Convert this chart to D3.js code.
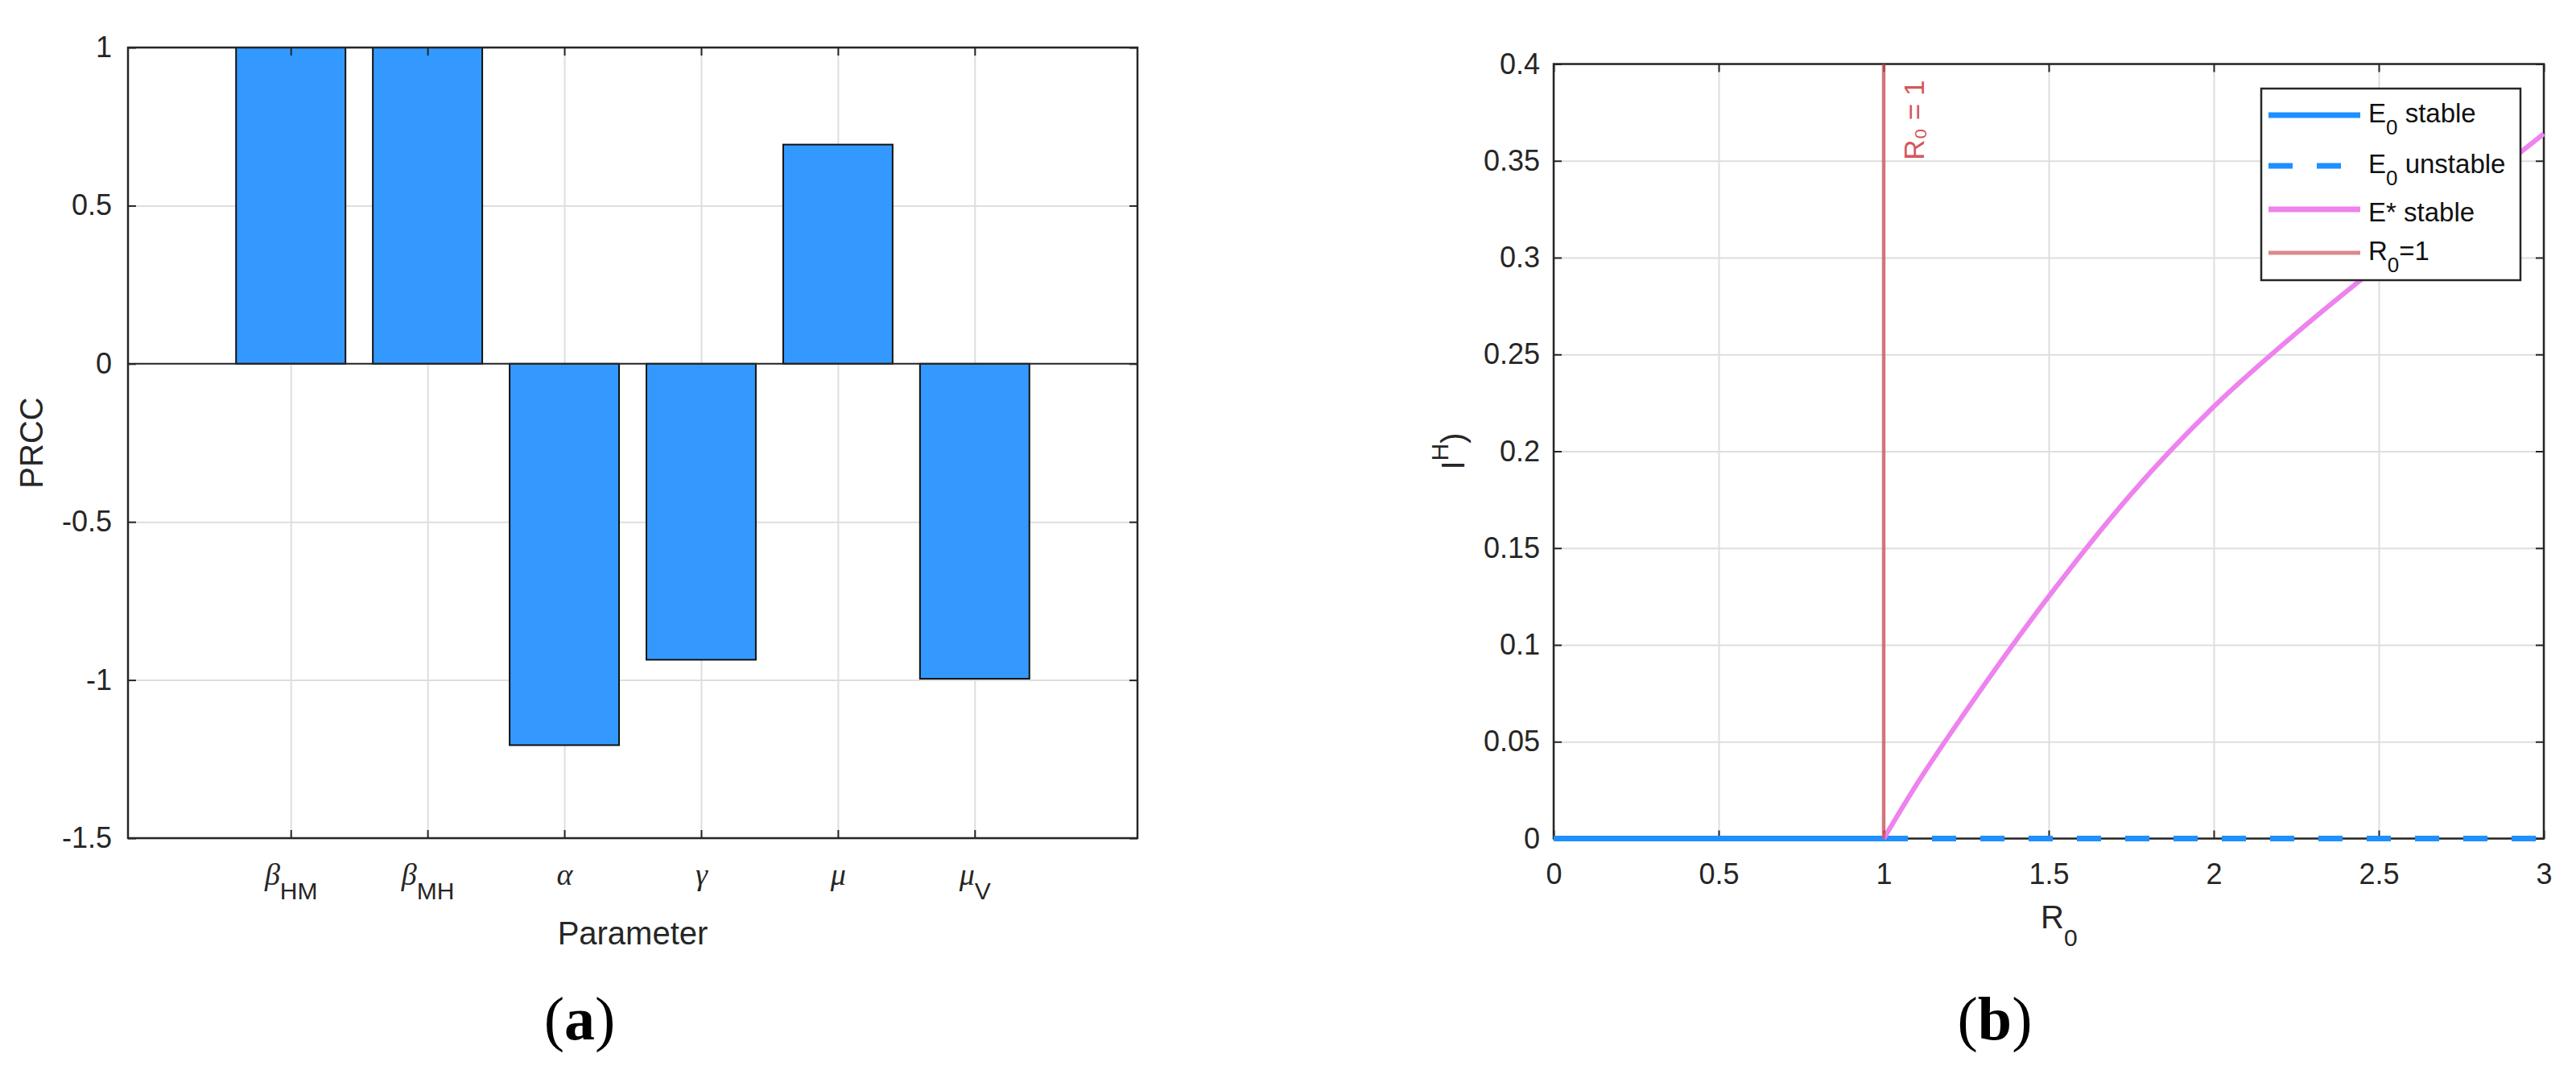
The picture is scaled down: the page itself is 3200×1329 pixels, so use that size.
<!DOCTYPE html>
<html>
<head>
<meta charset="utf-8">
<script src="https://cdn.jsdelivr.net/npm/d3@7"></script>
<style>
body { margin: 0; background: #fff; }
svg { display: block; font-family: "Liberation Sans", Arial, sans-serif; }
</style>
</head>
<body>
<svg width="3200" height="1329"></svg>
<script>
// panel (a): PRCC bars
const paramSymbols = ["β", "β", "α", "γ", "μ", "μ"];
const paramSubs = ["HM", "MH", "", "", "", "V"];
const prccValues = [1.0, 1.0, -1.206, -0.936, 0.693, -0.996];
const prccTicks = [-1.5, -1, -0.5, 0, 0.5, 1];

// panel (b): bifurcation diagram
const r0Ticks = [0, 0.5, 1, 1.5, 2, 2.5, 3];
const iTicks = [0, 0.05, 0.1, 0.15, 0.2, 0.25, 0.3, 0.35, 0.4];
const e0StableR0 = [0, 1];
const e0StableI = [0, 0];
const e0UnstableR0 = [1, 3];
const e0UnstableI = [0, 0];
const eStarR0 = [1.0, 1.1, 1.25, 1.5, 1.75, 2.0, 2.25, 2.5, 2.75, 3.0];
const eStarI = [0.0, 0.028, 0.066, 0.125, 0.178, 0.223, 0.261, 0.296, 0.330, 0.364];
const r0Threshold = 1;
const legendMain = ["E", "E", "E* stable", "R"];
const legendSub = ["0", "0", "", "0"];
const legendRest = [" stable", " unstable", "", "=1"];

const axisColor = "#262626";
const gridColor = "#dedede";
const tickFont = 36;

let svg = d3.select("svg");

function fmt(d) {
	return String(+d.toFixed(2));
}

// grid + box + mirrored ticks for one axes
function drawFrame(box, x, y, xTicks, yTicks) {
	let grid = svg.append("g");
	grid.append("g")
		.attr("transform", "translate(0," + box.bottom + ")")
		.call(d3.axisBottom(x).tickValues(xTicks).tickSize(-(box.bottom - box.top)).tickFormat(""))
		.call(g => g.select(".domain").remove());
	grid.append("g")
		.attr("transform", "translate(" + box.left + ",0)")
		.call(d3.axisLeft(y).tickValues(yTicks).tickSize(-(box.right - box.left)).tickFormat(""))
		.call(g => g.select(".domain").remove());
	grid.selectAll("line").attr("stroke", gridColor).attr("stroke-width", 2);
}

function drawAxes(box, x, y, xTicks, yTicks, yPad) {
	let axes = svg.append("g");
	let gl = axes.append("g")
		.attr("transform", "translate(" + box.left + ",0)")
		.call(d3.axisLeft(y).tickValues(yTicks).tickSize(-10).tickSizeOuter(0).tickPadding(yPad).tickFormat(fmt));
	axes.append("g")
		.attr("transform", "translate(" + box.right + ",0)")
		.call(d3.axisRight(y).tickValues(yTicks).tickSize(-10).tickSizeOuter(0).tickFormat(""));
	axes.append("g")
		.attr("transform", "translate(0," + box.top + ")")
		.call(d3.axisTop(x).tickValues(xTicks).tickSize(-10).tickSizeOuter(0).tickFormat(""));
	let gb = axes.append("g")
		.attr("transform", "translate(0," + box.bottom + ")")
		.call(d3.axisBottom(x).tickValues(xTicks).tickSize(-10).tickSizeOuter(0).tickPadding(31).tickFormat(fmt));
	axes.selectAll(".domain").remove();
	axes.selectAll("g").attr("font-family", null).attr("font-size", tickFont);
	axes.selectAll("line").attr("stroke", axisColor).attr("stroke-width", 2);
	axes.selectAll("text").attr("fill", axisColor);
	axes.append("rect")
		.attr("x", box.left).attr("y", box.top)
		.attr("width", box.right - box.left).attr("height", box.bottom - box.top)
		.attr("fill", "none").attr("stroke", axisColor).attr("stroke-width", 2.5);
	return gb;
}

// ---------- panel (a) ----------
const boxA = {left: 159, right: 1413, top: 59, bottom: 1041};
const xA = d3.scaleLinear().domain([-0.19, 7.19]).range([boxA.left, boxA.right]);
const yA = d3.scaleLinear().domain([-1.5, 1]).range([boxA.bottom, boxA.top]);
const catPos = prccValues.map((d, i) => i + 1);

drawFrame(boxA, xA, yA, catPos, prccTicks);

svg.append("g").selectAll("rect")
	.data(prccValues)
	.join("rect")
	.attr("x", (d, i) => xA(i + 1 - 0.4))
	.attr("width", xA(0.8) - xA(0))
	.attr("y", d => yA(Math.max(0, d)))
	.attr("height", d => Math.abs(yA(d) - yA(0)))
	.attr("fill", "#3399ff")
	.attr("stroke", "#111")
	.attr("stroke-width", 2);

svg.append("line")
	.attr("x1", boxA.left).attr("x2", boxA.right)
	.attr("y1", yA(0)).attr("y2", yA(0))
	.attr("stroke", axisColor).attr("stroke-width", 2);

let gxA = drawAxes(boxA, xA, yA, catPos, prccTicks, 20);
gxA.selectAll(".tick text").each(function(d) {
	let t = d3.select(this);
	t.text(null).attr("y", 58).attr("dy", null);
	t.append("tspan")
		.attr("font-family", "'Liberation Serif', serif")
		.attr("font-style", "italic")
		.attr("font-size", 38)
		.text(paramSymbols[d - 1]);
	if (paramSubs[d - 1]) {
		t.append("tspan").attr("font-size", 30).attr("dy", 18).text(paramSubs[d - 1]);
	}
});

svg.append("text")
	.attr("x", (boxA.left + boxA.right) / 2).attr("y", 1173)
	.attr("text-anchor", "middle").attr("font-size", 40).attr("fill", axisColor)
	.text("Parameter");
svg.append("text")
	.attr("transform", "translate(53," + ((boxA.top + boxA.bottom) / 2) + ") rotate(-90)")
	.attr("text-anchor", "middle").attr("font-size", 40).attr("fill", axisColor)
	.text("PRCC");

// ---------- panel (b) ----------
const boxB = {left: 1930, right: 3160, top: 79.5, bottom: 1041.5};
const xB = d3.scaleLinear().domain([0, 3]).range([boxB.left, boxB.right]);
const yB = d3.scaleLinear().domain([0, 0.4]).range([boxB.bottom, boxB.top]);

drawFrame(boxB, xB, yB, r0Ticks, iTicks);
drawAxes(boxB, xB, yB, r0Ticks, iTicks, 17);

let line = d3.line()
	.x(d => xB(d[0]))
	.y(d => yB(d[1]));

svg.append("path")
	.attr("d", line(d3.zip(e0StableR0, e0StableI)))
	.attr("fill", "none").attr("stroke", "#1e90ff").attr("stroke-width", 7);
svg.append("path")
	.attr("d", line(d3.zip(e0UnstableR0, e0UnstableI)))
	.attr("fill", "none").attr("stroke", "#1e90ff").attr("stroke-width", 7)
	.attr("stroke-dasharray", "30,30");
svg.append("path")
	.attr("d", line.curve(d3.curveMonotoneX)(d3.zip(eStarR0, eStarI)))
	.attr("fill", "none").attr("stroke", "#ee82ee").attr("stroke-width", 6);
svg.append("line")
	.attr("x1", xB(r0Threshold)).attr("x2", xB(r0Threshold))
	.attr("y1", yB(0)).attr("y2", yB(0.4))
	.attr("stroke", "#c84a50").attr("stroke-opacity", 0.72).attr("stroke-width", 4.5);
svg.append("text")
	.attr("transform", "translate(" + (xB(r0Threshold) + 50) + "," + (boxB.top + 20) + ") rotate(-90)")
	.attr("text-anchor", "end").attr("font-size", 35).attr("fill", "#d4575c")
	.text("R₀ = 1");

svg.append("text")
	.attr("x", (boxB.left + boxB.right) / 2 - 10).attr("y", 1153)
	.attr("font-size", 40).attr("fill", axisColor)
	.call(t => t.append("tspan").text("R"))
	.call(t => t.append("tspan").attr("font-size", 30).attr("dy", 22).text("0"));

let yLab = svg.append("text")
	.attr("transform", "translate(1819," + ((boxB.top + boxB.bottom) / 2) + ") rotate(-90)")
	.attr("text-anchor", "middle").attr("font-size", 40).attr("fill", axisColor);
yLab.append("tspan").text("I");
yLab.append("tspan").attr("font-size", 30).attr("dy", -20).text("H");
yLab.append("tspan").attr("dy", 20).text(")");

// legend
const legendStyles = [
	{color: "#1e90ff", dash: null, width: 7},
	{color: "#1e90ff", dash: "30,30", width: 7},
	{color: "#ee82ee", dash: null, width: 7},
	{color: "#c84a50", dash: null, width: 5, opacity: 0.65}
];
const legendRowY = [143, 206, 260, 314];

let legend = svg.append("g");
legend.append("rect")
	.attr("x", 2809).attr("y", 110).attr("width", 322).attr("height", 238)
	.attr("fill", "#fff").attr("stroke", axisColor).attr("stroke-width", 2.5);

legendMain.forEach(function(m, i) {
	let st = legendStyles[i];
	legend.append("line")
		.attr("x1", 2818).attr("x2", 2932)
		.attr("y1", legendRowY[i]).attr("y2", legendRowY[i])
		.attr("stroke", st.color).attr("stroke-width", st.width)
		.attr("stroke-opacity", st.opacity || 1)
		.attr("stroke-dasharray", st.dash);
	let t = legend.append("text")
		.attr("x", 2942).attr("y", legendRowY[i] + (legendSub[i] ? 9 : 15))
		.attr("font-size", 33).attr("fill", "#111");
	t.append("tspan").text(m);
	if (legendSub[i]) {
		t.append("tspan").attr("font-size", 26).attr("dy", 15).text(legendSub[i]);
		t.append("tspan").attr("dy", -15).text(legendRest[i]);
	}
});

// captions
[["a", 720], ["b", 2478]].forEach(function(c) {
	let t = svg.append("text")
		.attr("x", c[1]).attr("y", 1291)
		.attr("text-anchor", "middle")
		.attr("font-family", "'Liberation Serif', 'Times New Roman', serif")
		.attr("font-size", 76).attr("fill", "#000");
	t.append("tspan").text("(");
	t.append("tspan").attr("font-weight", "bold").text(c[0]);
	t.append("tspan").text(")");
});
</script>
</body>
</html>
